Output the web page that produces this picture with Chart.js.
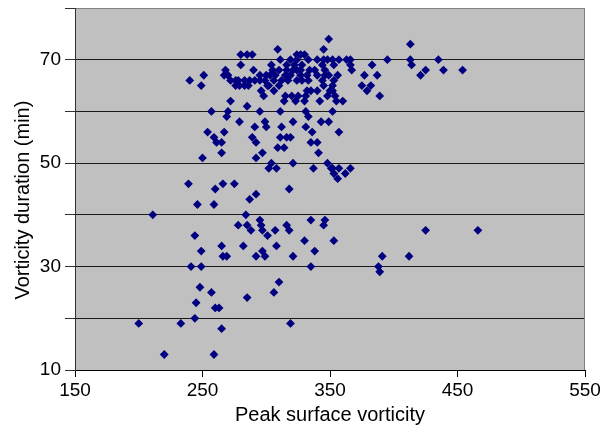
<!DOCTYPE html>
<html>
<head>
<meta charset="utf-8">
<script src="https://cdn.jsdelivr.net/npm/chart.js@4.4.0/dist/chart.umd.min.js"></script>
<style>
    html, body { margin: 0; padding: 0; background: #fff; }
    #wrap { width: 611px; height: 428px; }
</style>
</head>
<body>
<div id="wrap"><canvas id="vortChart" width="611" height="428"></canvas></div>
<script>
/* Peak surface vorticity vs. vorticity duration - scatter */

// one entry per event (grouped roughly by duration band)
const peakVorticity = [
    // 60 - 74 min
    349, 413, 309, 345,
    280, 285, 289, 324, 327, 330,
    311, 319, 324, 333, 340, 345, 348, 352, 357, 363, 366, 395, 413, 435,
    280, 304, 316, 322, 328, 344, 353, 366, 383, 414,
    268, 290, 305, 310, 316, 321, 324, 327, 334, 338, 346, 367, 425, 439, 454,
    251, 267, 270, 295, 300, 303, 307, 315, 319, 327, 332, 340, 346, 349, 356, 377, 387, 421,
    240, 272, 276, 278, 283, 287, 291, 295, 299, 306, 312, 317, 324, 328, 333, 344, 353,
    249, 276, 279, 283, 286, 301, 302, 310, 345, 352, 375, 382,
    296, 306, 332, 335, 340, 350, 352, 379,
    298, 315, 320, 325, 331, 348, 354, 389,
    272, 314, 323, 330, 342, 355, 360,
    285, 257, 270, 295, 311, 331, 352,
    // 47 - 59 min
    254, 259, 261, 265, 267, 265, 250, 269, 279, 289, 291, 292, 292, 297, 299,
    300, 302, 304, 308, 309, 311, 312, 314, 316, 319, 321, 321, 331, 333, 335,
    336, 337, 340, 341, 343, 349, 348, 351, 352, 353, 356, 357, 357, 362, 366,
    // 12 - 46 min
    200, 211, 220, 233, 239, 241, 244, 244, 245, 246, 248, 249, 249, 257, 259, 259,
    260, 260, 263, 265, 265, 266, 266, 269, 275, 278, 282, 284, 285, 285, 287, 288,
    292, 292, 295, 296, 297, 297, 299, 301, 306, 307, 308, 310, 316, 318, 318, 319,
    321, 330, 335, 335, 338, 345, 346, 353, 388, 389, 391, 412, 425, 466
];

const durationMin = [
    // 60 - 74 min
    74, 73, 72, 72,
    71, 71, 71, 71, 71, 71,
    70, 70, 70, 70, 70, 70, 70, 70, 70, 70, 70, 70, 70, 70,
    69, 69, 69, 69, 69, 69, 69, 69, 69, 69,
    68, 68, 68, 68, 68, 68, 68, 68, 68, 68, 68, 68, 68, 68, 68,
    67, 67, 67, 67, 67, 67, 67, 67, 67, 67, 67, 67, 67, 67, 67, 67, 67, 67,
    66, 66, 66, 66, 66, 66, 66, 66, 66, 66, 66, 66, 66, 66, 66, 66, 66,
    65, 65, 65, 65, 65, 65, 65, 65, 65, 65, 65, 65,
    64, 64, 64, 64, 64, 64, 64, 64,
    63, 63, 63, 63, 63, 63, 63, 63,
    62, 62, 62, 62, 62, 62, 62,
    61, 60, 60, 60, 60, 60, 60,
    // 47 - 59 min
    56, 55, 54, 54, 56, 52, 51, 59, 58, 55, 57, 54, 51, 52, 58,
    57, 49, 50, 49, 53, 55, 57, 53, 55, 55, 58, 50, 57, 59, 54,
    56, 49, 54, 52, 58, 58, 50, 49, 49, 48, 47, 56, 49, 48, 49,
    // 12 - 46 min
    19, 40, 13, 19, 46, 30, 20, 36, 23, 42, 26, 33, 30, 25, 13, 42,
    22, 45, 22, 18, 34, 46, 32, 32, 46, 38, 34, 40, 24, 38, 43, 37,
    44, 32, 39, 38, 37, 33, 32, 36, 25, 37, 34, 27, 38, 45, 37, 19,
    32, 35, 39, 30, 33, 38, 39, 35, 30, 29, 32, 32, 37, 37
];

const xTickStep = 100;          // 150, 250, ... 550
const yLabelValues = [10, 30, 50, 70];   // only every other gridline is labelled

const FONT = "'Liberation Sans', Arial, sans-serif";

// grey plot area + grey right edge (excel style)
const plotFrame = {
    id: 'plotFrame',
    beforeDraw(chart) {
        const { ctx, chartArea: a } = chart;
        ctx.save();
        ctx.fillStyle = '#c0c0c0';
        ctx.fillRect(a.left, a.top, a.right - a.left, a.bottom - a.top);
        ctx.restore();
    },
    beforeDatasetsDraw(chart) {
        const { ctx, chartArea: a } = chart;
        const xr = Math.round(a.right) - 0.5;
        ctx.save();
        ctx.strokeStyle = '#808080';
        ctx.lineWidth = 1;
        ctx.beginPath();
        ctx.moveTo(xr, a.top);
        ctx.lineTo(xr, a.bottom);
        ctx.stroke();
        ctx.restore();
    }
};

window.onload = function() {
    const points = peakVorticity.map((v, i) => ({ x: v, y: durationMin[i] }));

    new Chart(document.getElementById('vortChart'), {
        type: 'scatter',
        data: {
            datasets: [{
                data: points,
                pointStyle: 'rectRot',
                pointRadius: 4.4,
                pointHoverRadius: 4.4,
                backgroundColor: '#000080',
                borderColor: '#000080',
                borderWidth: 0
            }]
        },
        options: {
            responsive: false,
            animation: false,
            devicePixelRatio: 1,
            events: [],
            layout: { padding: { top: 8, right: 26, bottom: 0, left: 0 } },
            plugins: {
                legend: { display: false },
                tooltip: { enabled: false }
            },
            scales: {
                x: {
                    type: 'linear',
                    min: 150,
                    max: 550,
                    ticks: {
                        stepSize: xTickStep,
                        autoSkip: false,
                        maxRotation: 0,
                        padding: 2,
                        color: '#000',
                        font: { family: FONT, size: 19 }
                    },
                    grid: { drawOnChartArea: false, drawTicks: true, tickLength: 7, tickColor: '#000' },
                    border: { color: '#000', width: 1 },
                    title: {
                        display: true,
                        text: 'Peak surface vorticity',
                        color: '#000',
                        font: { family: FONT, size: 20 },
                        padding: { top: 0, bottom: 1 }
                    },
                    afterFit: s => {
                        s.height = 58;
                        s.paddingLeft = 0;
                        s.paddingRight = 0;
                    }
                },
                y: {
                    min: 10,
                    max: 80,
                    ticks: {
                        stepSize: 10,
                        padding: 4,
                        color: '#000',
                        font: { family: FONT, size: 19 },
                        callback: v => yLabelValues.includes(v) ? String(v) : ''
                    },
                    grid: {
                        color: c => (c.tick && c.tick.value === 80) ? '#808080' : '#1a1a1a',
                        lineWidth: 1,
                        tickLength: 10,
                        tickColor: '#303030'
                    },
                    border: { color: '#303030', width: 1 },
                    title: {
                        display: true,
                        // trailing spaces nudge the centred title down a bit, as in the original
                        text: 'Vorticity duration (min)    ',
                        color: '#000',
                        font: { family: FONT, size: 20 },
                        padding: { top: 11, bottom: 0 }
                    },
                    afterFit: s => {
                        s.width = 75;
                        s.paddingTop = 0;
                        s.paddingBottom = 0;
                    }
                }
            }
        },
        plugins: [plotFrame]
    });
};
</script>
</body>
</html>
